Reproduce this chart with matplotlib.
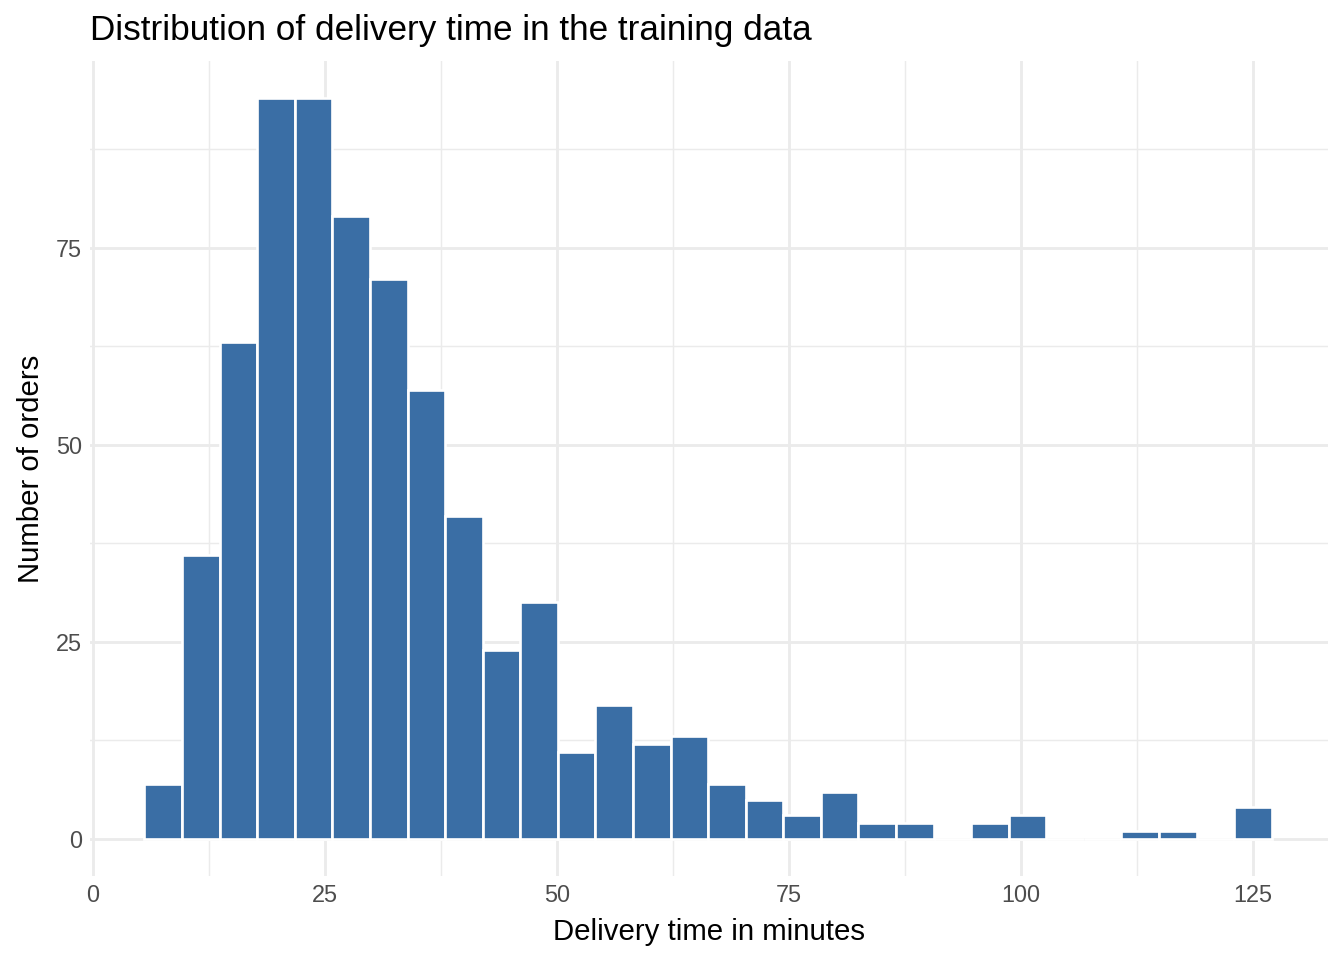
import numpy as np
import matplotlib.pyplot as plt

# histogram: 30 bins
bin_start = 5.55
bin_width = 4.05
counts = [7, 36, 63, 94, 94, 79, 71, 57, 41, 24,
          30, 11, 17, 12, 13, 7, 5, 3, 6, 2,
          2, 0, 2, 3, 0, 0, 1, 1, 0, 4]
x_ticks = [0, 25, 50, 75, 100, 125]
y_ticks = [0, 25, 50, 75]

title = 'Distribution of delivery time in the training data'
x_label = 'Delivery time in minutes'
y_label = 'Number of orders'

plt.rcParams['font.family'] = ['Liberation Sans', 'DejaVu Sans']

edges = bin_start + bin_width * np.arange(len(counts) + 1)

fig = plt.figure(figsize=(7, 5), dpi=192)
ax = fig.add_axes([0.0667, 0.0875, 0.9213, 0.849])

ax.bar(edges[:-1], counts, width=bin_width, align='edge',
       color='#3A6EA5', edgecolor='white', linewidth=1.0, zorder=3)

ax.set_xlim(-0.36, 133.1)
ax.set_ylim(-0.05 * max(counts), 1.05 * max(counts))

ax.set_xticks(x_ticks)
ax.set_yticks(y_ticks)
ax.set_xticks([12.5, 37.5, 62.5, 87.5, 112.5], minor=True)
ax.set_yticks([12.5, 37.5, 62.5, 87.5], minor=True)
ax.grid(which='major', color='#EBEBEB', linewidth=1.07, zorder=0)
ax.grid(which='minor', color='#EBEBEB', linewidth=0.53, zorder=0)
ax.set_axisbelow(True)
for s in ax.spines.values():
    s.set_visible(False)
ax.tick_params(which='both', length=0, labelsize=8.8, labelcolor='#4D4D4D', pad=3)

ax.set_xlabel(x_label, fontsize=11, labelpad=4)
ax.set_ylabel(y_label, fontsize=11, labelpad=4)
ax.set_title(title, fontsize=13.2, loc='left', pad=8)

fig.savefig('out.png', dpi=192)
